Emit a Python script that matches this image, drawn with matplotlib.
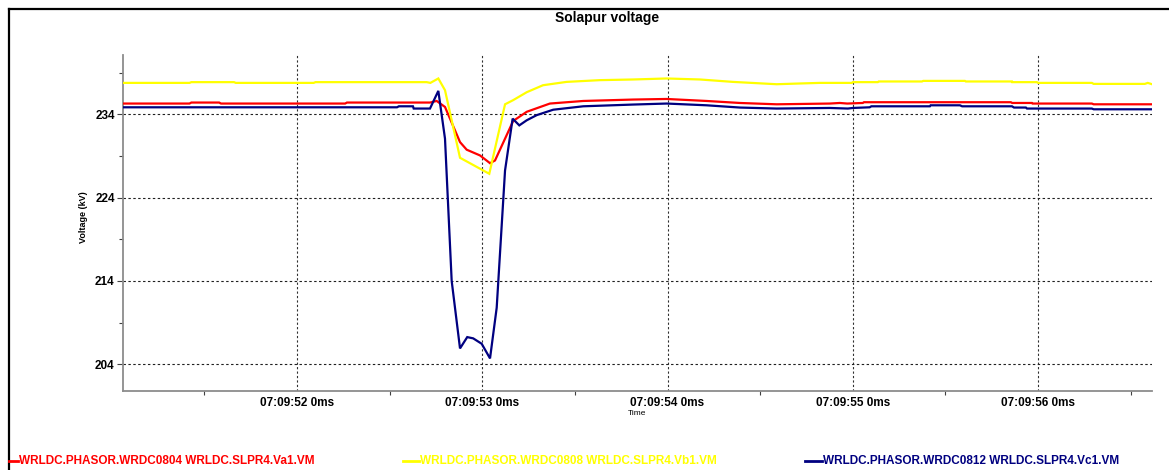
''' solapur_voltage.py '''
import matplotlib
matplotlib.use('Agg')
import matplotlib.pyplot as plt
from matplotlib.lines import Line2D
from matplotlib.ticker import FixedLocator, FuncFormatter

# time in seconds after 07:09:50, voltage in kV
t_va = [51.061, 51.42, 51.43, 51.58, 51.59, 52.26, 52.27, 52.718, 52.754,
        52.799, 52.880, 52.916, 52.988, 53.042, 53.069, 53.167, 53.240,
        53.365, 53.545, 53.815, 53.995, 54.211, 54.390, 54.589, 54.876,
        54.93, 54.97, 55.054, 55.06, 55.853, 55.86, 55.967, 55.97, 56.290,
        56.30, 56.615]
va = [235.29, 235.29, 235.41, 235.41, 235.29, 235.29, 235.41, 235.41, 235.60,
      234.88, 230.66, 229.75, 229.06, 228.13, 228.46, 233.2, 234.3,
      235.29, 235.60, 235.77, 235.84, 235.60, 235.36, 235.20, 235.29,
      235.36, 235.29, 235.36, 235.45, 235.45, 235.36, 235.36, 235.29, 235.29,
      235.20, 235.20]

t_vb = [51.061, 51.42, 51.43, 51.66, 51.67, 52.09, 52.10, 52.70, 52.72,
        52.763, 52.799, 52.880, 53.038, 53.123, 53.167, 53.240, 53.328,
        53.455, 53.635, 53.815, 53.995, 54.175, 54.353, 54.589, 54.715,
        54.822, 54.995, 55.0, 55.135, 55.14, 55.373, 55.38, 55.605, 55.61,
        55.859, 55.86, 55.993, 56.0, 56.290, 56.30, 56.576, 56.592, 56.615]
vb = [237.77, 237.77, 237.86, 237.86, 237.77, 237.77, 237.86, 237.86, 237.77,
      238.30, 236.89, 228.78, 226.86, 235.2, 235.7, 236.65, 237.49,
      237.89, 238.10, 238.18, 238.30, 238.18, 237.89, 237.61, 237.70,
      237.77, 237.77, 237.86, 237.86, 237.94, 237.94, 238.01, 238.01, 237.94,
      237.94, 237.86, 237.86, 237.77, 237.77, 237.65, 237.65, 237.77, 237.61]

t_vc = [51.061, 52.540, 52.55, 52.626, 52.63, 52.718, 52.763, 52.799, 52.835,
        52.880, 52.919, 52.951, 52.997, 53.042, 53.078, 53.123, 53.164,
        53.200, 53.240, 53.294, 53.383, 53.545, 53.815, 53.995, 54.211,
        54.390, 54.589, 54.876, 54.973, 55.0, 55.091, 55.1, 55.416, 55.42,
        55.578, 55.59, 55.859, 55.87, 55.934, 55.94, 56.290, 56.30, 56.615]
vc = [234.84, 234.84, 234.96, 234.96, 234.69, 234.69, 236.81, 231.07, 214.0,
      205.89, 207.25, 207.10, 206.45, 204.69, 210.78, 227.25, 233.48,
      232.67, 233.28, 233.9, 234.55, 234.96, 235.17, 235.29, 235.08,
      234.81, 234.69, 234.76, 234.69, 234.76, 234.84, 234.96, 234.96, 235.08,
      235.08, 234.96, 234.96, 234.81, 234.81, 234.69, 234.69, 234.60, 234.60]

series_names = ['WRLDC.PHASOR.WRDC0804 WRLDC.SLPR4.Va1.VM',
                'WRLDC.PHASOR.WRDC0808 WRLDC.SLPR4.Vb1.VM',
                'WRLDC.PHASOR.WRDC0812 WRLDC.SLPR4.Vc1.VM']
series_colors = ['#ff0000', '#ffff00', '#000080']

x_major = [52, 53, 54, 55, 56]
x_minor = [51.5, 52.5, 53.5, 54.5, 55.5, 56.5]
y_major = [204, 214, 224, 234]
y_minor = [209, 219, 229, 239]

FONT = 'Liberation Sans'


def time_label(x, pos):
    ''' tick text for seconds after 07:09:50 '''
    return f'07:09:{int(round(x)):02d} 0ms'


def main():
    fig = plt.figure(figsize=(11.69, 4.70), dpi=100)
    fig.patch.set_facecolor('white')
    ax = fig.add_axes([0.1052, 0.1681, 0.8803, 0.7149])

    ax.set_xlim(51.061, 56.615)
    ax.set_ylim(200.78, 241.12)

    # grid first so the traces sit on top
    for x in x_major:
        ax.axvline(x, color='#303030', lw=0.8, ls=(0, (2, 2)), zorder=1)
    for y in y_major:
        ax.axhline(y, color='#202020', lw=0.8, ls=(0, (2.2, 2.2)), zorder=1)

    for t, v, c in zip([t_va, t_vb, t_vc], [va, vb, vc], series_colors):
        ax.plot(t, v, color=c, lw=1.6, zorder=3, solid_joinstyle='miter')

    ax.xaxis.set_major_locator(FixedLocator(x_major))
    ax.xaxis.set_minor_locator(FixedLocator(x_minor))
    ax.xaxis.set_major_formatter(FuncFormatter(time_label))
    ax.yaxis.set_major_locator(FixedLocator(y_major))
    ax.yaxis.set_minor_locator(FixedLocator(y_minor))

    for side in ['top', 'right']:
        ax.spines[side].set_visible(False)
    for side in ['left', 'bottom']:
        ax.spines[side].set_color('#8c8c8c')
        ax.spines[side].set_linewidth(1.3)

    ax.tick_params(axis='both', which='major', length=4, width=0.8,
                   color='#404040', pad=2)
    ax.tick_params(axis='x', which='major', length=0, pad=4)
    ax.tick_params(axis='both', which='minor', length=3, width=0.8,
                   color='#404040')
    for lab in ax.get_xticklabels() + ax.get_yticklabels():
        lab.set_fontfamily(FONT)
        lab.set_fontweight('bold')
        lab.set_fontsize(8.5)

    fig.text(0.5195, 0.961, 'Solapur voltage', ha='center', va='center',
             fontsize=10, fontweight='bold', family=FONT)
    fig.text(0.0715, 0.538, 'Voltage (kV)', rotation=90, ha='center',
             va='center', fontsize=6.5, fontweight='bold', family=FONT)
    fig.text(0.545, 0.121, 'Time', ha='center', va='center', fontsize=6,
             family=FONT)

    # outer frame
    fig.add_artist(Line2D([9 / 1169, 1.0], [461 / 470, 461 / 470],
                          color='black', lw=1.6))
    fig.add_artist(Line2D([9 / 1169, 9 / 1169], [0.0, 461 / 470],
                          color='black', lw=1.6))

    # legend along the bottom
    legend_x = [(9, 18), (403, 419), (805, 822)]
    yl = 1 - 461 / 470
    for (x0, x1), name, c in zip(legend_x, series_names, series_colors):
        fig.add_artist(Line2D([x0 / 1169, x1 / 1169], [yl, yl], color=c,
                              lw=2))
        fig.text((x1 + 1) / 1169, yl, name, ha='left', va='center',
                 fontsize=8.5, fontweight='bold', color=c, family=FONT)

    fig.savefig('out.png', dpi=100, facecolor='white')


if __name__ == '__main__':
    main()
